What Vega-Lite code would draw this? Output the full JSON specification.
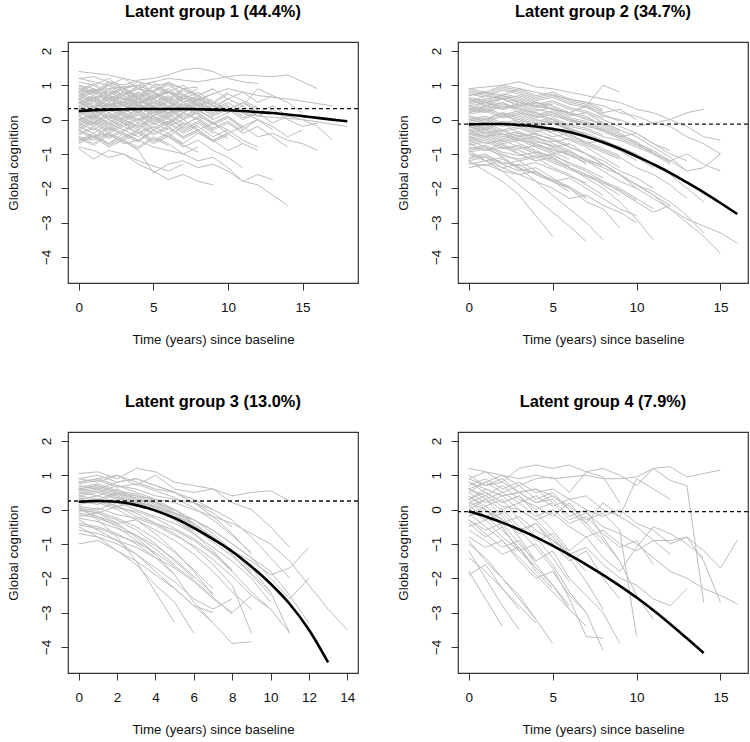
{
"$schema":"https://vega.github.io/schema/vega-lite/v6.json",
"padding":{"left":5,"top":3,"right":4,"bottom":4},
"background":"white",
"bounds":"flush",
"columns":2,
"spacing":{"column":100,"row":149},
"datasets":{
"traj":[
{"g":1,"id":101,"t":[0,1,2,3,4,5,6,7,8],"y":[1.4,1.35,1.3,1.2,1.1,1.0,1.05,0.9,0.95]},
{"g":1,"id":102,"t":[0,1,2,3,4,5,6,7,8,9,10,11,12],"y":[1.2,1.25,1.1,1.0,1.15,1.2,1.3,1.45,1.5,1.4,1.2,1.1,1.05]},
{"g":1,"id":103,"t":[0,2,4,6,8,10,11,13,14,16],"y":[0.8,0.9,1.0,1.2,1.1,1.25,1.3,1.25,1.3,0.9]},
{"g":1,"id":104,"t":[0,2,4,6,8,10,12,14,17],"y":[0.6,0.7,0.5,0.8,0.6,0.9,0.7,0.6,0.4]},
{"g":1,"id":105,"t":[0,3,6,9,12,15,18],"y":[0.3,0.5,0.2,0.4,0.1,0.0,-0.2]},
{"g":1,"id":106,"t":[0,1,2,3,4,5,6,7,8,9,10,11,12,13,14],"y":[-0.5,-0.6,-0.4,-0.7,-0.6,-0.8,-0.9,-1.0,-1.2,-1.1,-1.4,-1.8,-1.9,-2.2,-2.5]},
{"g":1,"id":107,"t":[0,1,2,3,4,5,6,7,8,9],"y":[-0.8,-0.9,-1.1,-1.0,-1.3,-1.5,-1.75,-1.6,-1.8,-1.9]},
{"g":1,"id":108,"t":[0,1,2,3,4,5,6,7,8,9,10,11,12,13],"y":[-0.3,-0.5,-0.4,-0.6,-0.9,-1.55,-1.3,-1.2,-1.4,-1.3,-1.5,-1.8,-1.6,-1.75]},
{"g":1,"id":109,"t":[0,1,2,3,4,5,6,7],"y":[-0.85,-1.15,-0.9,-1.0,-1.2,-1.35,-1.5,-1.3]},
{"g":1,"id":110,"t":[0,1,2,3,4,5,6,7,8,9,10,11,12,13,14,15,16],"y":[0.0,0.1,-0.1,0.2,0.0,0.1,-0.2,0.0,-0.3,-0.1,-0.4,-0.2,-0.5,-0.4,-0.6,-0.7,-0.9]},
{"g":1,"id":111,"t":[0,1,2,3,4,5,6,7,8,9,10,11,12,13,14,15,16,17],"y":[0.5,0.6,0.4,0.7,0.5,0.6,0.8,0.5,0.6,0.4,0.3,0.5,0.2,0.4,0.1,0.0,-0.2,-0.6]},
{"g":1,"id":112,"t":[0,1,2,3,4,5,6,7,8,9,10,11,12,13,14,15],"y":[0.2,0.3,0.0,0.2,0.4,0.1,0.3,0.0,0.2,-0.1,0.1,-0.3,0.0,-0.2,-0.5,-0.3]},
{"g":1,"id":113,"t":[0,1,2,3,4,5,6,7,8,9,10],"y":[0.9,0.8,1.0,0.7,0.9,0.8,0.6,0.9,0.7,0.5,0.8]},
{"g":1,"id":114,"t":[0,1,2,3,4,5,6,7,8,9,10,11],"y":[-0.6,-0.5,-0.7,-0.4,-0.6,-0.3,-0.5,-0.7,-0.4,-0.6,-0.9,-0.7]},
{"g":1,"id":115,"t":[0,1,2,3,4,5,6,7,8,9,10,11,12],"y":[0.7,0.5,0.8,0.6,0.4,0.7,0.5,0.3,0.6,0.4,0.2,0.5,0.3]},
{"g":1,"id":116,"t":[0,1,2,3,4,5,6],"y":[0.4,0.2,0.5,0.3,0.6,0.4,0.2]},
{"g":1,"id":117,"t":[0,1,2,3,4,5],"y":[-0.2,0.0,-0.3,-0.1,-0.4,-0.2]},
{"g":1,"id":118,"t":[0,1,2,3,4,5,6,7,8,9],"y":[1.0,0.9,0.7,0.9,0.6,0.8,0.5,0.7,0.4,0.6]},
{"g":1,"id":119,"t":[0,1,2,3,4,5,6,7,8],"y":[-0.4,-0.2,-0.5,-0.3,-0.1,-0.4,-0.2,-0.5,-0.3]},
{"g":1,"id":120,"t":[0,1,2,3,4,5,6,7,8,9,10,11,12,13,14],"y":[0.1,-0.1,0.2,0.0,-0.2,0.1,-0.1,0.2,0.0,-0.3,-0.1,-0.4,-0.2,-0.5,-0.8]},
{"g":1,"id":121,"t":[0,1,2,3,4,5,6,7,8,9,10],"y":[0.6,0.8,0.5,0.7,0.9,0.6,0.8,0.5,0.7,0.4,0.6]},
{"g":1,"id":122,"t":[0,1,2,3,4,5,6,7],"y":[0.3,0.1,0.4,0.2,0.0,0.3,0.1,0.4]},
{"g":1,"id":123,"t":[0,1,2,3,4,5,6,7,8,9,10,11,12,13],"y":[1.1,1.0,1.2,0.9,1.0,0.8,1.1,0.9,0.7,0.9,0.6,0.8,0.5,0.7]},
{"g":1,"id":124,"t":[0,1,2,3,4,5,6,7,8,9],"y":[-0.1,0.1,-0.2,0.0,0.2,-0.1,0.1,-0.3,-0.1,-0.4]},
{"g":1,"id":125,"t":[0,1,2,3,4,5,6,7,8,9,10,11,12],"y":[0.0,-0.2,0.1,-0.1,-0.3,0.0,-0.2,-0.5,-0.3,-0.6,-0.4,-0.7,-0.9]},
{"g":1,"id":126,"t":[0,1,2,3,4,5,6],"y":[0.8,0.6,0.9,0.7,1.0,0.8,0.6]},
{"g":1,"id":127,"t":[0,1,2,3,4,5,6,7,8,9,10,11],"y":[0.4,0.6,0.3,0.5,0.7,0.4,0.6,0.3,0.5,0.2,0.4,0.1]},
{"g":1,"id":128,"t":[0,1,2,3,4,5,6,7,8],"y":[-0.5,-0.7,-0.4,-0.6,-0.8,-0.5,-0.7,-1.0,-0.8]},
{"g":1,"id":129,"t":[0,1,2,3,4,5,6,7,8,9,10,11,12,13,14,15],"y":[0.6,0.4,0.7,0.5,0.8,0.6,0.4,0.7,0.5,0.3,0.6,0.4,0.9,0.7,0.5,0.2]},
{"g":1,"id":130,"t":[0,1,2,3,4,5,6,7,8,9,10],"y":[0.2,0.0,0.3,0.1,-0.1,0.2,0.0,-0.2,0.1,-0.1,-0.3]},
{"g":1,"id":131,"t":[0,1,2,3,4],"y":[0.9,0.7,1.0,0.8,0.6]},
{"g":1,"id":132,"t":[0,1,2,3,4,5,6,7,8,9,10,11,12],"y":[-0.3,-0.1,-0.4,-0.2,0.0,-0.3,-0.1,-0.4,-0.2,-0.5,-0.3,-0.6,-0.8]},
{"g":1,"id":133,"t":[0,1,2,3,4,5,6,7,8,9],"y":[0.5,0.3,0.6,0.4,0.2,0.5,0.3,0.6,0.4,0.1]},
{"g":1,"id":134,"t":[0,1,2,3,4,5,6,7],"y":[0.0,0.2,-0.1,0.1,0.3,0.0,0.2,-0.1]},
{"g":1,"id":135,"t":[0,1,2,3,4,5,6,7,8,9,10,11,12,13,14],"y":[0.3,0.5,0.2,0.4,0.6,0.3,0.5,0.2,0.4,0.1,0.3,0.0,0.2,-0.1,0.1]},
{"g":1,"id":136,"t":[0,1,2,3,4,5,6,7,8,9,10,11],"y":[-0.7,-0.5,-0.8,-0.6,-0.4,-0.7,-0.5,-0.8,-0.6,-0.9,-1.1,-1.4]},
{"g":1,"id":137,"t":[0,1,2,3,4,5],"y":[0.7,0.9,0.6,0.8,0.5,0.7]},
{"g":1,"id":138,"t":[0,1,2,3,4,5,6,7,8,9,10,11,12,13],"y":[0.1,0.3,0.0,0.2,0.4,0.1,0.3,0.0,0.2,-0.1,0.1,-0.2,0.0,-0.3]},
{"g":1,"id":139,"t":[0,1,2,3,4,5,6,7,8],"y":[0.8,1.0,0.7,0.9,1.1,0.8,1.0,0.7,0.9]},
{"g":1,"id":140,"t":[0,1,2,3,4,5,6,7,8,9,10],"y":[-0.2,-0.4,-0.1,-0.3,-0.5,-0.2,-0.4,-0.1,-0.3,-0.6,-0.4]},
{"g":1,"id":141,"t":[0,1,2,3,4,5,6,7,8,9,10,11,12,13,14,15,16],"y":[0.4,0.2,0.5,0.3,0.1,0.4,0.2,0.5,0.3,0.0,0.2,0.4,0.1,0.3,0.0,-0.2,-0.1]},
{"g":1,"id":142,"t":[0,1,2,3,4,5,6],"y":[-0.1,-0.3,0.0,-0.2,-0.4,-0.1,-0.3]},
{"g":1,"id":143,"t":[0,1,2,3,4,5,6,7,8,9],"y":[1.2,1.1,1.0,1.2,0.9,1.1,0.8,1.0,0.7,0.9]},
{"g":1,"id":144,"t":[0,1,2,3,4,5,6,7,8,9,10,11,12],"y":[0.5,0.7,0.4,0.6,0.8,0.5,0.7,0.4,0.6,0.3,0.5,0.2,0.0]},
{"g":1,"id":145,"t":[0,1,2,3,4,5,6,7],"y":[-0.6,-0.4,-0.7,-0.5,-0.3,-0.6,-0.4,-0.7]},
{"g":1,"id":146,"t":[0,1,2,3,4,5,6,7,8,9],"y":[0.35,0.15,0.45,0.25,0.55,0.35,0.15,0.45,0.25,0.05]},
{"g":1,"id":147,"t":[0,1,2,3,4,5,6,7],"y":[0.65,0.85,0.55,0.75,0.95,0.65,0.85,0.55]},
{"g":1,"id":148,"t":[0,1,2,3,4,5,6,7,8,9,10],"y":[-0.45,-0.25,-0.55,-0.35,-0.15,-0.45,-0.25,-0.55,-0.35,-0.65,-0.45]},
{"g":1,"id":149,"t":[0,1,2,3,4,5,6,7,8],"y":[0.15,0.35,0.05,0.25,0.45,0.15,0.35,0.05,0.25]},
{"g":1,"id":150,"t":[0,1,2,3,4,5,6],"y":[0.95,0.75,1.05,0.85,0.65,0.95,0.75]},
{"g":1,"id":151,"t":[0,1,2,3,4,5,6,7,8,9,10,11],"y":[-0.05,0.15,-0.15,0.05,0.25,-0.05,0.15,-0.15,0.05,-0.25,-0.05,-0.35]},
{"g":1,"id":152,"t":[0,1,2,3,4,5,6,7,8,9],"y":[0.55,0.35,0.65,0.45,0.25,0.55,0.35,0.65,0.45,0.25]},
{"g":1,"id":153,"t":[0,1,2,3,4,5],"y":[-0.35,-0.55,-0.25,-0.45,-0.65,-0.35]},
{"g":1,"id":154,"t":[0,1,2,3,4,5,6,7,8,9,10,11,12],"y":[0.75,0.55,0.85,0.65,0.45,0.75,0.55,0.85,0.65,0.45,0.75,0.55,0.35]},
{"g":1,"id":155,"t":[0,1,2,3,4,5,6,7,8],"y":[-0.25,-0.05,-0.35,-0.15,0.05,-0.25,-0.05,-0.35,-0.15]},
{"g":1,"id":156,"t":[0,1,2,3,4,5,6,7,8,9,10],"y":[0.45,0.65,0.35,0.55,0.75,0.45,0.65,0.35,0.55,0.25,0.45]},
{"g":1,"id":157,"t":[0,1,2,3,4,5,6,7],"y":[0.05,-0.15,0.15,-0.05,-0.25,0.05,-0.15,0.15]},
{"g":1,"id":158,"t":[0,1,2,3,4,5,6,7,8,9],"y":[0.85,1.05,0.75,0.95,0.65,0.85,1.05,0.75,0.55,0.75]},
{"g":1,"id":159,"t":[0,1,2,3,4,5,6],"y":[-0.55,-0.75,-0.45,-0.65,-0.85,-0.55,-0.75]},
{"g":1,"id":160,"t":[0,1,2,3,4,5,6,7,8,9,10,11],"y":[0.25,0.05,0.35,0.15,-0.05,0.25,0.05,0.35,0.15,-0.15,0.05,-0.25]},
{"g":1,"id":161,"t":[0,1,2,3,4,5,6,7,8],"y":[0.6,0.4,0.7,0.5,0.3,0.6,0.4,0.2,0.5]},
{"g":1,"id":162,"t":[0,1,2,3,4,5,6,7,8,9,10],"y":[-0.15,0.05,-0.25,-0.05,0.15,-0.15,0.05,-0.25,-0.05,-0.35,-0.55]},
{"g":1,"id":163,"t":[0,1,2,3,4,5,6,7],"y":[1.0,0.8,1.1,0.9,0.7,1.0,0.8,0.6]},
{"g":1,"id":164,"t":[0,1,2,3,4,5,6,7,8,9],"y":[0.1,-0.1,0.2,0.0,-0.2,0.1,-0.1,0.2,0.0,-0.3]},
{"g":1,"id":165,"t":[0,1,2,3,4,5,6,7,8,9,10,11,12],"y":[0.35,0.55,0.25,0.45,0.65,0.35,0.55,0.25,0.45,0.15,0.35,0.05,0.25]},
{"g":1,"id":166,"t":[0,1,2,3,4,5],"y":[0.5,0.3,0.6,0.4,0.2,0.5]},
{"g":1,"id":167,"t":[0,1,2,3,4,5,6,7,8],"y":[-0.65,-0.45,-0.75,-0.55,-0.35,-0.65,-0.45,-0.75,-0.95]},
{"g":1,"id":168,"t":[0,1,2,3,4,5,6,7,8,9,10],"y":[0.7,0.9,0.6,0.8,0.5,0.7,0.9,0.6,0.8,0.5,0.3]},
{"g":1,"id":169,"t":[0,1,2,3,4,5,6,7],"y":[-0.3,-0.5,-0.2,-0.4,-0.6,-0.3,-0.5,-0.2]},
{"g":1,"id":170,"t":[0,1,2,3,4,5,6,7,8,9],"y":[0.2,0.4,0.1,0.3,0.5,0.2,0.4,0.1,0.3,0.0]},
{"g":2,"id":201,"t":[0,1,2,3,4,5,6,7,8,9,10,11,12,13,14,15],"y":[0.9,0.95,1.0,1.1,0.95,0.9,0.8,0.7,0.6,0.5,0.3,0.2,0.0,-0.2,-0.5,-0.6]},
{"g":2,"id":202,"t":[0,1,2,3,4,5,6,7,8,9,10,11,12,13,14],"y":[0.3,0.5,0.6,0.4,0.5,0.3,0.2,0.4,0.1,0.0,-0.2,-0.1,0.0,0.2,0.3]},
{"g":2,"id":203,"t":[0,1,2,3,4,5,6,7,8,9],"y":[0.2,0.4,0.3,0.5,0.4,0.3,0.2,0.4,1.0,0.8]},
{"g":2,"id":204,"t":[0,1,2,3,4,5,6,7,8,9,10,11,12,13,14,15,16],"y":[-0.5,-0.4,-0.6,-0.5,-0.7,-0.9,-1.0,-1.2,-1.5,-1.8,-2.0,-2.3,-2.6,-2.9,-3.1,-3.3,-3.6]},
{"g":2,"id":205,"t":[0,1,2,3,4,5,6,7,8,9,10,11,12,13,14,15],"y":[0.0,-0.1,-0.3,-0.2,-0.4,-0.6,-0.8,-1.0,-1.3,-1.6,-1.9,-2.2,-2.6,-3.0,-3.4,-3.9]},
{"g":2,"id":206,"t":[0,1,2,3,4,5],"y":[-1.2,-1.5,-1.8,-2.2,-2.8,-3.4]},
{"g":2,"id":207,"t":[0,1,2,3,4,5,6,7],"y":[-0.9,-1.2,-1.5,-1.9,-2.3,-2.7,-3.1,-3.55]},
{"g":2,"id":208,"t":[0,1,2,3,4,5,6,7,8],"y":[-0.6,-0.8,-1.1,-1.4,-1.8,-2.2,-2.6,-3.0,-3.5]},
{"g":2,"id":209,"t":[0,1,2,3,4,5,6,7,8,9,10,11],"y":[-0.3,-0.5,-0.4,-0.7,-0.9,-1.1,-1.4,-1.7,-2.0,-2.4,-2.9,-3.5]},
{"g":2,"id":210,"t":[0,1,2,3,4,5,6,7,8,9],"y":[-1.0,-1.1,-1.3,-1.2,-1.5,-1.8,-2.0,-2.4,-2.6,-3.15]},
{"g":2,"id":211,"t":[0,1,2,3,4,5,6,7,8,9,10,11,12],"y":[0.7,0.8,0.6,0.7,0.5,0.4,0.2,0.1,-0.2,-0.4,-0.7,-1.0,-1.3]},
{"g":2,"id":212,"t":[0,1,2,3,4,5,6,7,8,9,10,11,12,13],"y":[0.5,0.6,0.7,0.5,0.4,0.3,0.2,0.0,-0.1,-0.3,-0.5,-0.8,-1.1,-1.5]},
{"g":2,"id":213,"t":[0,1,2,3,4,5,6,7,8,9,10],"y":[-1.4,-1.3,-1.5,-1.6,-1.8,-2.0,-2.3,-2.2,-2.5,-2.7,-3.0]},
{"g":2,"id":214,"t":[0,1,2,3,4,5,6],"y":[-1.1,-1.0,-1.3,-1.5,-1.4,-1.7,-2.0]},
{"g":2,"id":215,"t":[0,1,2,3,4,5,6,7,8,9],"y":[0.1,0.0,0.2,-0.1,-0.2,-0.4,-0.6,-0.8,-1.1,-1.4]},
{"g":2,"id":216,"t":[0,1,2,3,4,5,6,7,8,9,10,11,12],"y":[-0.2,-0.3,-0.1,-0.4,-0.5,-0.7,-0.9,-1.2,-1.3,-1.6,-1.9,-2.2,-2.5]},
{"g":2,"id":217,"t":[0,1,2,3,4,5,6,7],"y":[0.4,0.3,0.5,0.2,0.1,0.0,-0.3,-0.5]},
{"g":2,"id":218,"t":[0,1,2,3,4,5,6,7,8,9,10,11],"y":[-0.7,-0.6,-0.8,-0.9,-1.1,-1.0,-1.3,-1.5,-1.8,-2.0,-2.3,-2.6]},
{"g":2,"id":219,"t":[0,1,2,3,4,5],"y":[-0.4,-0.5,-0.3,-0.6,-0.7,-0.9]},
{"g":2,"id":220,"t":[0,1,2,3,4,5,6,7,8,9,10,11,12,13,14],"y":[0.2,0.3,0.1,0.2,0.0,-0.1,-0.3,-0.4,-0.6,-0.8,-1.0,-1.3,-1.6,-2.0,-2.4]},
{"g":2,"id":221,"t":[0,1,2,3,4,5,6,7,8],"y":[-0.9,-0.8,-1.0,-1.2,-1.1,-1.4,-1.6,-1.9,-2.2]},
{"g":2,"id":222,"t":[0,1,2,3,4,5,6,7,8,9,10],"y":[0.8,0.7,0.9,0.8,0.6,0.7,0.5,0.4,0.2,0.3,0.0]},
{"g":2,"id":223,"t":[0,1,2,3,4,5,6,7,8,9,10,11,12,13],"y":[-0.1,0.0,-0.2,-0.1,-0.3,-0.5,-0.4,-0.7,-0.9,-1.1,-1.4,-1.6,-1.9,-2.3]},
{"g":2,"id":224,"t":[0,1,2,3,4,5,6,7,8,9],"y":[-0.5,-0.7,-0.6,-0.8,-1.0,-1.2,-1.4,-1.6,-1.9,-2.2]},
{"g":2,"id":225,"t":[0,1,2,3,4,5,6],"y":[0.6,0.4,0.5,0.3,0.2,0.0,-0.2]},
{"g":2,"id":226,"t":[0,1,2,3,4,5,6,7,8,9,10,11,12],"y":[-0.8,-0.9,-0.7,-1.0,-1.2,-1.1,-1.4,-1.6,-1.8,-2.1,-2.4,-2.7,-2.5]},
{"g":2,"id":227,"t":[0,1,2,3,4,5,6,7,8,9,10,11,12,13,14,15],"y":[0.4,0.5,0.3,0.4,0.2,0.1,0.0,-0.2,-0.3,-0.5,-0.7,-0.9,-1.2,-1.0,-1.3,-1.5]},
{"g":2,"id":228,"t":[0,1,2,3,4,5,6,7],"y":[-0.3,-0.2,-0.4,-0.6,-0.5,-0.8,-1.0,-1.3]},
{"g":2,"id":229,"t":[0,1,2,3,4,5,6,7,8,9,10],"y":[-1.2,-1.1,-1.4,-1.3,-1.6,-1.8,-1.7,-2.0,-2.3,-2.6,-2.8]},
{"g":2,"id":230,"t":[0,1,2,3,4,5,6,7,8,9,10,11],"y":[0.0,0.1,-0.1,0.0,-0.2,-0.3,-0.5,-0.7,-0.6,-0.9,-1.1,-1.4]},
{"g":2,"id":231,"t":[0,1,2,3,4,5,6,7,8,9],"y":[0.5,0.7,0.6,0.4,0.5,0.3,0.1,0.2,-0.1,-0.3]},
{"g":2,"id":232,"t":[0,1,2,3,4,5,6,7,8,9,10,11,12,13,14],"y":[-0.6,-0.5,-0.7,-0.6,-0.8,-1.0,-0.9,-1.2,-1.4,-1.6,-1.9,-2.1,-2.4,-2.8,-3.3]},
{"g":2,"id":233,"t":[0,1,2,3,4,5,6,7,8],"y":[0.9,0.8,1.0,0.9,0.7,0.8,0.6,0.5,0.3]},
{"g":2,"id":234,"t":[0,1,2,3,4,5,6,7,8,9,10,11,12],"y":[0.3,0.2,0.4,0.3,0.1,0.2,0.0,-0.1,-0.3,-0.5,-0.4,-0.7,-0.9]},
{"g":2,"id":235,"t":[0,1,2,3,4,5,6],"y":[-1.0,-1.2,-1.1,-1.4,-1.6,-1.8,-2.1]},
{"g":2,"id":236,"t":[0,1,2,3,4,5,6,7,8,9,10],"y":[-0.2,-0.4,-0.3,-0.5,-0.4,-0.6,-0.8,-1.0,-1.3,-1.6,-2.0]},
{"g":2,"id":237,"t":[0,1,2,3,4,5,6,7,8,9,10,11,12,13],"y":[0.6,0.5,0.7,0.6,0.4,0.5,0.3,0.2,0.0,-0.2,-0.4,-0.7,-1.0,-1.2]},
{"g":2,"id":238,"t":[0,1,2,3,4,5,6,7,8,9,10,11,12,13,14,15],"y":[0.1,0.0,0.2,0.1,-0.1,0.0,-0.2,-0.3,-0.5,-0.6,-0.8,-1.0,-1.2,-1.5,-1.4,-1.0]},
{"g":2,"id":239,"t":[0,1,2,3,4],"y":[-0.7,-0.9,-0.8,-1.0,-1.2]},
{"g":2,"id":240,"t":[0,1,2,3,4,5,6,7,8,9],"y":[0.3,0.4,0.6,0.5,0.3,0.2,0.0,-0.1,-0.3,-0.5]},
{"g":2,"id":241,"t":[0,1,2,3,4,5,6,7,8,9,10,11],"y":[-0.4,-0.3,-0.5,-0.4,-0.6,-0.8,-0.7,-1.0,-1.2,-1.5,-1.7,-2.0]},
{"g":2,"id":242,"t":[0,1,2,3,4,5,6,7],"y":[-1.3,-1.2,-1.4,-1.6,-1.5,-1.8,-2.0,-2.3]},
{"g":2,"id":243,"t":[0,1,2,3,4,5,6,7,8,9,10,11,12,13,14,15],"y":[0.7,0.8,0.7,0.9,0.8,0.7,0.6,0.5,0.4,0.2,0.1,-0.1,-0.2,-0.5,-0.7,-1.0]},
{"g":2,"id":244,"t":[0,1,2,3,4,5,6,7,8],"y":[0.15,0.25,0.05,0.15,-0.05,0.05,-0.15,-0.25,-0.45]},
{"g":2,"id":245,"t":[0,1,2,3,4,5,6,7],"y":[-0.55,-0.45,-0.65,-0.55,-0.75,-0.85,-1.05,-1.25]},
{"g":2,"id":246,"t":[0,1,2,3,4,5,6,7,8,9],"y":[0.45,0.55,0.35,0.45,0.25,0.35,0.15,0.05,-0.15,-0.35]},
{"g":2,"id":247,"t":[0,1,2,3,4,5,6],"y":[-0.85,-0.75,-0.95,-1.05,-0.95,-1.15,-1.35]},
{"g":2,"id":248,"t":[0,1,2,3,4,5,6,7,8,9,10],"y":[-0.05,0.05,-0.15,-0.05,-0.25,-0.35,-0.25,-0.45,-0.65,-0.85,-1.05]},
{"g":2,"id":249,"t":[0,1,2,3,4,5,6,7,8],"y":[0.65,0.55,0.75,0.65,0.45,0.55,0.35,0.25,0.05]},
{"g":2,"id":250,"t":[0,1,2,3,4,5,6,7],"y":[-1.15,-1.05,-1.25,-1.35,-1.25,-1.45,-1.65,-1.85]},
{"g":2,"id":251,"t":[0,1,2,3,4,5,6,7,8,9],"y":[-0.35,-0.25,-0.45,-0.35,-0.55,-0.65,-0.55,-0.75,-0.95,-1.15]},
{"g":2,"id":252,"t":[0,1,2,3,4,5,6,7,8,9,10,11],"y":[0.25,0.35,0.15,0.25,0.05,0.15,-0.05,-0.15,-0.35,-0.55,-0.75,-0.95]},
{"g":2,"id":253,"t":[0,1,2,3,4,5,6],"y":[-0.65,-0.55,-0.75,-0.85,-0.75,-0.95,-1.15]},
{"g":2,"id":254,"t":[0,1,2,3,4,5,6,7,8],"y":[0.85,0.75,0.95,0.85,0.65,0.75,0.55,0.45,0.25]},
{"g":2,"id":255,"t":[0,1,2,3,4,5,6,7,8,9,10],"y":[-0.95,-0.85,-1.05,-1.15,-1.05,-1.25,-1.45,-1.65,-1.85,-2.05,-2.35]},
{"g":2,"id":256,"t":[0,1,2,3,4,5,6,7],"y":[0.05,-0.05,0.15,0.05,-0.15,-0.05,-0.25,-0.45]},
{"g":2,"id":257,"t":[0,1,2,3,4,5,6,7,8,9],"y":[-0.15,-0.25,-0.05,-0.15,-0.35,-0.25,-0.45,-0.65,-0.85,-1.05]},
{"g":2,"id":258,"t":[0,1,2,3,4,5],"y":[0.55,0.45,0.65,0.55,0.35,0.45]},
{"g":2,"id":259,"t":[0,1,2,3,4,5,6,7,8],"y":[-0.45,-0.35,-0.55,-0.45,-0.65,-0.75,-0.95,-1.15,-1.35]},
{"g":2,"id":260,"t":[0,1,2,3,4,5,6,7,8,9,10,11,12],"y":[0.35,0.25,0.45,0.35,0.15,0.25,0.05,-0.05,-0.25,-0.45,-0.65,-0.95,-1.25]},
{"g":2,"id":261,"t":[0,1,2,3,4,5,6,7],"y":[-1.25,-1.35,-1.15,-1.45,-1.55,-1.75,-1.95,-2.25]},
{"g":2,"id":262,"t":[0,1,2,3,4,5,6,7,8,9],"y":[0.75,0.65,0.85,0.75,0.55,0.65,0.45,0.35,0.15,-0.05]},
{"g":2,"id":263,"t":[0,1,2,3,4,5,6],"y":[-0.25,-0.15,-0.35,-0.25,-0.45,-0.55,-0.75]},
{"g":2,"id":264,"t":[0,1,2,3,4,5,6,7,8,9,10],"y":[0.0,-0.1,0.1,0.0,-0.2,-0.1,-0.3,-0.5,-0.7,-0.9,-1.2]},
{"g":2,"id":265,"t":[0,1,2,3,4,5,6,7,8],"y":[-0.75,-0.65,-0.85,-0.75,-0.95,-1.05,-1.25,-1.45,-1.7]},
{"g":3,"id":301,"t":[0,1,2,3,4,5,6,7,8,9,10,11],"y":[1.05,1.1,0.9,1.2,1.1,0.8,0.7,0.6,0.4,0.5,0.55,0.25]},
{"g":3,"id":302,"t":[0,1,2,3,4,5,6,7,8,9,10,11],"y":[0.8,0.9,1.0,0.7,1.0,0.6,0.5,0.6,0.2,0.0,-0.5,-1.1]},
{"g":3,"id":303,"t":[0,1,2,3,4,5,6,7,8,9,10,11,12,13,14],"y":[0.6,0.7,0.5,0.4,0.3,0.2,0.0,-0.2,-0.4,-0.7,-1.0,-1.5,-2.2,-2.9,-3.5]},
{"g":3,"id":304,"t":[0,1,2,3,4,5,6,7,8,9,10,11,12],"y":[0.3,0.4,0.2,0.1,0.0,-0.2,-0.5,-0.8,-1.2,-1.5,-1.9,-1.7,-1.1]},
{"g":3,"id":305,"t":[0,1,2,3,4,5,6,7,8,9,10,11,12],"y":[0.5,0.4,0.6,0.3,0.2,-0.1,-0.3,-0.6,-1.0,-1.4,-1.8,-2.5,-3.3]},
{"g":3,"id":306,"t":[0,1,2,3,4,5,6,7,8,9],"y":[-0.3,-0.6,-0.9,-1.3,-1.8,-2.3,-2.8,-3.3,-3.9,-3.85]},
{"g":3,"id":307,"t":[0,1,2,3,4,5,6],"y":[-0.5,-0.8,-1.2,-1.6,-2.2,-2.7,-3.6]},
{"g":3,"id":308,"t":[0,1,2,3,4,5],"y":[0.1,-0.3,-0.8,-1.5,-2.4,-3.3]},
{"g":3,"id":309,"t":[0,1,2,3,4,5,6,7],"y":[0.0,-0.1,-0.4,-0.8,-1.3,-1.9,-2.7,-3.3]},
{"g":3,"id":310,"t":[0,1,2,3,4,5,6,7,8,9],"y":[0.2,0.3,0.1,-0.1,-0.4,-0.7,-1.1,-1.6,-2.2,-3.6]},
{"g":3,"id":311,"t":[0,1,2,3,4,5,6,7,8,9,10,11],"y":[0.4,0.5,0.3,0.2,0.1,-0.2,-0.4,-0.8,-1.2,-1.7,-2.4,-3.6]},
{"g":3,"id":312,"t":[0,1,2,3,4,5,6,7,8,9,10],"y":[-0.6,-0.7,-0.9,-1.1,-1.4,-1.7,-2.1,-2.6,-3.0,-2.5,-2.9]},
{"g":3,"id":313,"t":[0,1,2,3,4,5,6,7,8],"y":[0.9,0.8,1.0,0.8,0.6,0.5,0.2,-0.1,-0.5]},
{"g":3,"id":314,"t":[0,1,2,3,4,5,6,7],"y":[-1.0,-0.9,-1.2,-1.5,-1.9,-2.3,-2.8,-3.0]},
{"g":3,"id":315,"t":[0,1,2,3,4,5,6,7,8,9],"y":[0.7,0.6,0.8,0.9,0.7,0.5,0.2,-0.2,-0.7,-1.3]},
{"g":3,"id":316,"t":[0,1,2,3,4,5,6],"y":[-0.2,-0.1,-0.3,-0.6,-1.0,-1.5,-2.0]},
{"g":3,"id":317,"t":[0,1,2,3,4,5,6,7,8,9,10],"y":[0.1,0.0,0.2,0.0,-0.2,-0.4,-0.7,-1.1,-1.5,-2.0,-2.7]},
{"g":3,"id":318,"t":[0,1,2,3,4,5,6,7,8],"y":[0.5,0.6,0.4,0.2,0.0,-0.3,-0.7,-1.2,-1.8]},
{"g":3,"id":319,"t":[0,1,2,3,4,5],"y":[-0.4,-0.5,-0.7,-1.0,-1.4,-1.9]},
{"g":3,"id":320,"t":[0,1,2,3,4,5,6,7,8,9,10,11],"y":[0.6,0.5,0.7,0.6,0.4,0.3,0.2,0.0,-0.3,-0.8,-1.4,-2.0]},
{"g":3,"id":321,"t":[0,1,2,3,4,5,6,7],"y":[0.3,0.2,0.0,-0.3,-0.7,-1.2,-1.8,-2.5]},
{"g":3,"id":322,"t":[0,1,2,3,4,5,6,7,8,9],"y":[-0.1,-0.2,-0.4,-0.3,-0.6,-0.9,-1.3,-1.8,-2.4,-2.9]},
{"g":3,"id":323,"t":[0,1,2,3,4,5,6],"y":[0.8,0.9,0.7,0.5,0.3,0.0,-0.4]},
{"g":3,"id":324,"t":[0,1,2,3,4,5,6,7,8,9,10],"y":[0.4,0.3,0.5,0.3,0.1,-0.1,-0.4,-0.8,-1.3,-1.9,-2.5]},
{"g":3,"id":325,"t":[0,1,2,3,4,5,6,7,8,9,10,11,12],"y":[0.2,0.3,0.1,0.2,0.0,-0.1,-0.3,-0.6,-1.0,-1.4,-2.0,-2.6,-2.0]},
{"g":3,"id":326,"t":[0,1,2,3,4,5,6,7,8],"y":[-0.7,-0.8,-1.0,-1.3,-1.7,-2.1,-2.6,-2.9,-2.6]},
{"g":3,"id":327,"t":[0,1,2,3,4],"y":[0.0,-0.2,-0.5,-0.9,-1.3]},
{"g":3,"id":328,"t":[0,1,2,3,4,5,6,7,8,9],"y":[0.6,0.7,0.5,0.4,0.2,0.0,-0.3,-0.7,-1.2,-1.8]},
{"g":3,"id":329,"t":[0,1,2,3,4,5,6,7,8,9,10,11],"y":[0.0,-0.1,0.1,-0.2,-0.4,-0.6,-0.9,-1.3,-1.8,-2.4,-2.9,-3.6]},
{"g":3,"id":330,"t":[0,1,2,3,4,5,6,7],"y":[0.9,1.0,0.8,0.9,0.7,0.5,0.3,0.0]},
{"g":3,"id":331,"t":[0,1,2,3,4,5,6],"y":[0.45,0.55,0.35,0.25,0.05,-0.25,-0.65]},
{"g":3,"id":332,"t":[0,1,2,3,4,5,6,7],"y":[-0.25,-0.35,-0.55,-0.75,-1.05,-1.45,-1.95,-2.45]},
{"g":3,"id":333,"t":[0,1,2,3,4,5,6,7,8],"y":[0.15,0.25,0.05,-0.05,-0.25,-0.55,-0.85,-1.25,-1.75]},
{"g":3,"id":334,"t":[0,1,2,3,4,5],"y":[0.65,0.75,0.55,0.45,0.25,-0.05]},
{"g":3,"id":335,"t":[0,1,2,3,4,5,6,7,8,9],"y":[-0.05,0.05,-0.15,-0.25,-0.45,-0.75,-1.05,-1.45,-1.95,-2.5]},
{"g":3,"id":336,"t":[0,1,2,3,4,5,6],"y":[0.35,0.25,0.45,0.25,0.05,-0.25,-0.6]},
{"g":3,"id":337,"t":[0,1,2,3,4,5,6,7,8],"y":[-0.45,-0.55,-0.75,-0.95,-1.25,-1.65,-2.05,-2.55,-3.05]},
{"g":3,"id":338,"t":[0,1,2,3,4,5,6,7],"y":[0.55,0.65,0.45,0.35,0.15,-0.15,-0.45,-0.85]},
{"g":3,"id":339,"t":[0,1,2,3,4,5,6,7,8,9,10],"y":[0.25,0.15,0.35,0.15,-0.05,-0.25,-0.55,-0.95,-1.35,-1.85,-2.4]},
{"g":3,"id":340,"t":[0,1,2,3,4,5],"y":[-0.15,-0.25,-0.45,-0.75,-1.15,-1.6]},
{"g":3,"id":341,"t":[0,1,2,3,4,5,6,7,8,9],"y":[0.75,0.85,0.65,0.75,0.55,0.35,0.05,-0.3,-0.75,-1.25]},
{"g":3,"id":342,"t":[0,1,2,3,4,5,6,7],"y":[0.05,-0.05,-0.25,-0.5,-0.85,-1.25,-1.75,-2.3]},
{"g":4,"id":401,"t":[0,1,2,3,4,5,6,7,8,9,10,11,12,13,15],"y":[1.2,1.1,1.0,0.9,1.0,0.9,0.95,1.0,0.9,0.9,0.95,1.2,1.25,0.95,1.15]},
{"g":4,"id":402,"t":[0,1,2,3,4,5,6,7,8,9,10,11,12,13,14],"y":[0.9,1.1,0.8,1.2,1.3,1.2,1.3,1.1,1.2,1.0,0.7,1.2,0.85,0.7,-2.7]},
{"g":4,"id":403,"t":[0,1,2,3,4,5,6,7,8,9],"y":[0.5,0.8,1.0,0.7,0.9,0.95,0.5,1.1,0.95,0.2]},
{"g":4,"id":404,"t":[0,1,2,3,4,5,6,7,8,9,10,11,12,13,14,15,16],"y":[0.0,0.3,0.5,0.2,0.4,0.1,0.3,0.0,-0.2,0.0,-0.4,-0.6,-1.0,-0.8,-1.2,-1.7,-0.9]},
{"g":4,"id":405,"t":[0,1,2,3,4,5,6,7,8,9,10,11,12,13,14,15,16],"y":[0.3,0.5,0.2,0.4,0.0,0.2,-0.3,-0.1,-0.5,-0.7,-1.0,-1.4,-1.8,-2.0,-2.3,-2.5,-2.75]},
{"g":4,"id":406,"t":[0,1,2,3,4,5,6,7,8,9,10,11],"y":[0.8,0.6,0.4,0.5,0.2,0.3,-0.2,0.0,-0.8,-1.5,-2.5,-3.2]},
{"g":4,"id":407,"t":[0,1,2,3,4,5],"y":[-0.9,-1.5,-2.0,-2.6,-3.2,-3.9]},
{"g":4,"id":408,"t":[0,1,2,3],"y":[-1.2,-2.0,-2.8,-3.5]},
{"g":4,"id":409,"t":[0,1,2,3,4,5,6,7,8],"y":[-0.5,-0.3,-0.8,-1.2,-1.0,-1.6,-2.4,-3.0,-4.1]},
{"g":4,"id":410,"t":[0,1,2,3,4,5,6,7,8],"y":[0.2,0.0,-0.3,-0.6,-1.1,-1.7,-2.6,-3.7,-3.75]},
{"g":4,"id":411,"t":[0,1,2,3,4,5,6,7,8,9],"y":[-0.3,-0.6,-0.4,-1.0,-1.5,-1.2,-2.0,-2.5,-3.0,-3.9]},
{"g":4,"id":412,"t":[0,1,2,3,4],"y":[0.6,0.3,-0.2,-0.8,-1.5]},
{"g":4,"id":413,"t":[0,1,2],"y":[-1.8,-2.6,-3.4]},
{"g":4,"id":414,"t":[0,1,2,3,4,5,6],"y":[0.4,0.1,0.3,-0.3,-0.8,-1.4,-2.1]},
{"g":4,"id":415,"t":[0,1,2,3,4,5,6,7,8,9,10],"y":[0.9,0.7,0.8,0.5,0.6,0.4,0.1,-0.3,-0.1,-0.6,-3.7]},
{"g":4,"id":416,"t":[0,1,2,3,4,5,6,7,8,9,10,11,12,13],"y":[-0.2,0.0,-0.4,-0.2,-0.6,-0.9,-1.3,-1.1,-1.6,-2.0,-2.2,-2.6,-2.8,-2.3]},
{"g":4,"id":417,"t":[0,1,2,3,4,5,6,7],"y":[0.1,-0.2,0.0,-0.5,-0.9,-0.7,-1.3,-1.8]},
{"g":4,"id":418,"t":[0,1,2,3,4,5],"y":[-0.6,-0.9,-1.3,-1.1,-1.8,-2.3]},
{"g":4,"id":419,"t":[0,1,2,3,4,5,6,7,8,9,10,11,12],"y":[0.7,0.9,0.6,0.8,0.5,0.6,0.3,0.4,0.0,-0.2,-0.5,-0.9,-1.3]},
{"g":4,"id":420,"t":[0,1,2,3,4,5,6,7,8,9,10,11,12,13,14,15],"y":[0.2,0.4,0.1,0.0,-0.3,-0.1,-0.5,-0.8,-0.6,-1.0,-1.2,-0.9,-0.9,-0.8,-1.5,-2.7]},
{"g":4,"id":421,"t":[0,1,2,3,4],"y":[-1.0,-1.4,-2.0,-2.5,-3.2]},
{"g":4,"id":422,"t":[0,1,2,3,4,5,6,7,8],"y":[0.5,0.2,0.4,0.0,-0.3,-0.8,-1.4,-2.1,-2.9]},
{"g":4,"id":423,"t":[0,1,2,3,4,5,6,7,8,9,10,11,12,13,14],"y":[0.0,-0.3,-0.1,-0.6,-0.4,-0.9,-1.2,-0.8,-1.4,-1.8,-1.1,-0.5,-0.7,-1.0,-1.4]},
{"g":4,"id":424,"t":[0,1,2,3,4,5,6],"y":[-0.4,-0.8,-0.5,-1.2,-1.7,-2.2,-2.8]},
{"g":4,"id":425,"t":[0,1,2,3,4,5,6,7,8,9],"y":[0.6,0.4,0.7,0.3,0.1,-0.2,0.2,-0.4,-0.9,-1.5]},
{"g":4,"id":426,"t":[0,1,2,3],"y":[-1.9,-1.6,-2.3,-2.9]},
{"g":4,"id":427,"t":[0,1,2,3,4,5,6,7],"y":[-0.1,-0.5,-0.9,-1.4,-1.9,-2.4,-2.9,-3.4]},
{"g":4,"id":428,"t":[0,1,2,3,4,5,6,7,8,9,10,11,12],"y":[0.3,0.6,0.4,0.5,0.2,0.4,0.0,-0.4,0.2,-0.2,0.9,0.6,0.3]},
{"g":4,"id":429,"t":[0,1,2,3,4,5,6],"y":[0.8,0.5,0.2,0.4,-0.1,-0.6,-1.2]},
{"g":4,"id":430,"t":[0,1,2,3,4],"y":[0.3,-0.2,-0.6,-1.1,-1.7]},
{"g":4,"id":431,"t":[0,1,2,3,4,5,6,7,8,9],"y":[-0.2,0.1,-0.3,-0.7,-0.4,-1.0,-1.5,-1.2,-2.0,-2.6]},
{"g":4,"id":432,"t":[0,1,2,3,4,5],"y":[1.0,0.7,0.9,0.5,0.6,0.2]},
{"g":4,"id":433,"t":[0,1,2,3,4,5,6,7],"y":[-0.8,-1.1,-0.9,-1.5,-2.0,-1.8,-2.5,-3.0]},
{"g":4,"id":434,"t":[0,1,2,3],"y":[0.4,0.0,-0.5,-1.2]},
{"g":4,"id":435,"t":[0,1,2,3,4,5,6,7,8],"y":[0.6,0.8,0.5,0.7,0.3,0.5,0.0,-0.5,-1.0]},
{"g":4,"id":436,"t":[0,1,2,3,4,5,6],"y":[-0.3,-0.7,-1.1,-0.9,-1.6,-2.2,-2.9]},
{"g":4,"id":437,"t":[0,1,2,3,4,5,6,7,8,9,10,11],"y":[0.1,0.3,0.0,0.2,-0.2,0.0,-0.4,-0.2,-0.7,-1.1,-0.9,-1.6]},
{"g":4,"id":438,"t":[0,1,2,3,4],"y":[-1.4,-1.8,-2.3,-2.8,-3.3]}
],
"mean":[
{"g":1,"t":[0,1,2,3,4,5,6,7,8,9,10,11,12,13,14,15,16,17,18],"y":[0.25,0.27,0.29,0.3,0.31,0.31,0.31,0.31,0.3,0.29,0.27,0.25,0.22,0.19,0.15,0.1,0.05,0.0,-0.05]},
{"g":2,"t":[0,1,2,3,4,5,6,7,8,9,10,11,12,13,14,15,16],"y":[-0.14,-0.13,-0.13,-0.16,-0.2,-0.27,-0.36,-0.5,-0.66,-0.85,-1.07,-1.3,-1.55,-1.83,-2.12,-2.43,-2.75]},
{"g":3,"t":[0,1,2,3,4,5,6,7,8,9,10,11,12,13],"y":[0.23,0.25,0.23,0.13,-0.03,-0.25,-0.53,-0.86,-1.22,-1.66,-2.16,-2.75,-3.5,-4.45]},
{"g":4,"t":[0,1,2,3,4,5,6,7,8,9,10,11,12,13,14],"y":[-0.05,-0.2,-0.38,-0.58,-0.8,-1.05,-1.32,-1.6,-1.9,-2.22,-2.56,-2.93,-3.33,-3.75,-4.18]}
],
"ref":[{"g":1,"y":0.32},{"g":2,"y":-0.13},{"g":3,"y":0.25},{"g":4,"y":-0.06}]
},
"concat":[
{"width":290,"height":241,"title":"Latent group 1 (44.4%)",
"layer":[
{"data":{"name":"traj"},"transform":[{"filter":"datum.g==1"},{"flatten":["t","y"]}],"mark":{"type":"line","color":"#bdbdbd","strokeWidth":1,"clip":true},
"encoding":{"x":{"field":"t","type":"quantitative","scale":{"domain":[-0.72,18.72],"nice":false,"zero":false},"axis":{"values":[0,5,10,15],"title":"Time (years) since baseline"}},"y":{"field":"y","type":"quantitative","scale":{"domain":[-4.76,2.26],"nice":false,"zero":false},"axis":{"values":[-4,-3,-2,-1,0,1,2],"title":"Global cognition"}},"detail":{"field":"id"}}},
{"data":{"name":"ref"},"transform":[{"filter":"datum.g==1"}],"mark":{"type":"rule","color":"#111","strokeDash":[4,3],"strokeWidth":1.3},"encoding":{"y":{"field":"y","type":"quantitative"}}},
{"data":{"name":"mean"},"transform":[{"filter":"datum.g==1"},{"flatten":["t","y"]}],"mark":{"type":"line","color":"#000","strokeWidth":2.6,"interpolate":"monotone"},"encoding":{"x":{"field":"t","type":"quantitative"},"y":{"field":"y","type":"quantitative"}}}
]},
{"width":290,"height":241,"title":"Latent group 2 (34.7%)",
"layer":[
{"data":{"name":"traj"},"transform":[{"filter":"datum.g==2"},{"flatten":["t","y"]}],"mark":{"type":"line","color":"#bdbdbd","strokeWidth":1,"clip":true},
"encoding":{"x":{"field":"t","type":"quantitative","scale":{"domain":[-0.64,16.64],"nice":false,"zero":false},"axis":{"values":[0,5,10,15],"title":"Time (years) since baseline"}},"y":{"field":"y","type":"quantitative","scale":{"domain":[-4.76,2.26],"nice":false,"zero":false},"axis":{"values":[-4,-3,-2,-1,0,1,2],"title":"Global cognition"}},"detail":{"field":"id"}}},
{"data":{"name":"ref"},"transform":[{"filter":"datum.g==2"}],"mark":{"type":"rule","color":"#111","strokeDash":[4,3],"strokeWidth":1.3},"encoding":{"y":{"field":"y","type":"quantitative"}}},
{"data":{"name":"mean"},"transform":[{"filter":"datum.g==2"},{"flatten":["t","y"]}],"mark":{"type":"line","color":"#000","strokeWidth":2.6,"interpolate":"monotone"},"encoding":{"x":{"field":"t","type":"quantitative"},"y":{"field":"y","type":"quantitative"}}}
]},
{"width":290,"height":241,"title":"Latent group 3 (13.0%)",
"layer":[
{"data":{"name":"traj"},"transform":[{"filter":"datum.g==3"},{"flatten":["t","y"]}],"mark":{"type":"line","color":"#bdbdbd","strokeWidth":1,"clip":true},
"encoding":{"x":{"field":"t","type":"quantitative","scale":{"domain":[-0.56,14.56],"nice":false,"zero":false},"axis":{"values":[0,2,4,6,8,10,12,14],"title":"Time (years) since baseline"}},"y":{"field":"y","type":"quantitative","scale":{"domain":[-4.76,2.26],"nice":false,"zero":false},"axis":{"values":[-4,-3,-2,-1,0,1,2],"title":"Global cognition"}},"detail":{"field":"id"}}},
{"data":{"name":"ref"},"transform":[{"filter":"datum.g==3"}],"mark":{"type":"rule","color":"#111","strokeDash":[4,3],"strokeWidth":1.3},"encoding":{"y":{"field":"y","type":"quantitative"}}},
{"data":{"name":"mean"},"transform":[{"filter":"datum.g==3"},{"flatten":["t","y"]}],"mark":{"type":"line","color":"#000","strokeWidth":2.6,"interpolate":"monotone"},"encoding":{"x":{"field":"t","type":"quantitative"},"y":{"field":"y","type":"quantitative"}}}
]},
{"width":290,"height":241,"title":"Latent group 4 (7.9%)",
"layer":[
{"data":{"name":"traj"},"transform":[{"filter":"datum.g==4"},{"flatten":["t","y"]}],"mark":{"type":"line","color":"#bdbdbd","strokeWidth":1,"clip":true},
"encoding":{"x":{"field":"t","type":"quantitative","scale":{"domain":[-0.64,16.64],"nice":false,"zero":false},"axis":{"values":[0,5,10,15],"title":"Time (years) since baseline"}},"y":{"field":"y","type":"quantitative","scale":{"domain":[-4.76,2.26],"nice":false,"zero":false},"axis":{"values":[-4,-3,-2,-1,0,1,2],"title":"Global cognition"}},"detail":{"field":"id"}}},
{"data":{"name":"ref"},"transform":[{"filter":"datum.g==4"}],"mark":{"type":"rule","color":"#111","strokeDash":[4,3],"strokeWidth":1.3},"encoding":{"y":{"field":"y","type":"quantitative"}}},
{"data":{"name":"mean"},"transform":[{"filter":"datum.g==4"},{"flatten":["t","y"]}],"mark":{"type":"line","color":"#000","strokeWidth":2.6,"interpolate":"monotone"},"encoding":{"x":{"field":"t","type":"quantitative"},"y":{"field":"y","type":"quantitative"}}}
]}
],
"config":{
"font":"Liberation Sans",
"view":{"stroke":"#333","strokeWidth":1.2},
"axis":{"grid":false,"domain":false,"ticks":true,"tickColor":"#333","tickSize":7,"tickWidth":1,"labelFont":"Liberation Sans","labelFontSize":13.5,"labelColor":"#111","titleFont":"Liberation Sans","titleFontSize":13.3,"titleFontWeight":"normal","titleColor":"#111"},
"axisX":{"labelPadding":10,"titlePadding":19},
"axisY":{"labelAngle":-90,"labelAlign":"center","labelBaseline":"bottom","labelPadding":8,"titlePadding":19},
"title":{"font":"Liberation Sans","fontSize":16.4,"fontWeight":"bold","color":"#000","anchor":"middle","offset":22}
}
}
